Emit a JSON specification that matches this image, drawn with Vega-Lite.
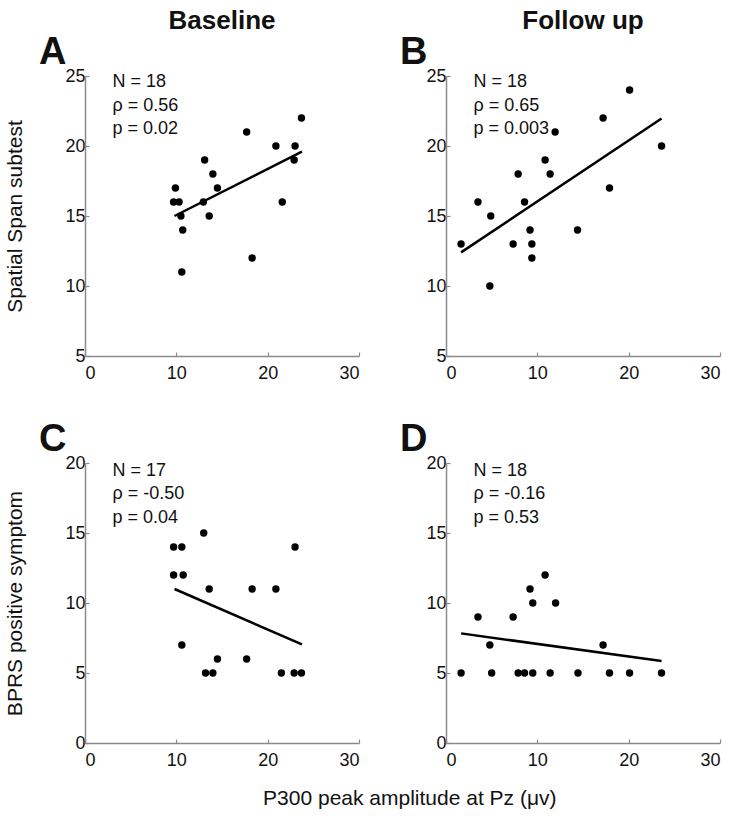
{
  "$schema": "https://vega.github.io/schema/vega-lite/v6.json",
  "background": "white",
  "padding": {"left": 4, "top": 8, "right": 5, "bottom": 3},
  "datasets": {
    "points": [
      {"panel": "A", "amp": 9.9, "score": 17}, {"panel": "A", "amp": 9.7, "score": 16}, {"panel": "A", "amp": 10.3, "score": 16},
      {"panel": "A", "amp": 10.5, "score": 15}, {"panel": "A", "amp": 10.7, "score": 14}, {"panel": "A", "amp": 10.6, "score": 11},
      {"panel": "A", "amp": 13.1, "score": 19}, {"panel": "A", "amp": 12.96, "score": 16}, {"panel": "A", "amp": 14.0, "score": 18},
      {"panel": "A", "amp": 14.5, "score": 17}, {"panel": "A", "amp": 13.6, "score": 15}, {"panel": "A", "amp": 17.7, "score": 21},
      {"panel": "A", "amp": 18.3, "score": 12}, {"panel": "A", "amp": 20.9, "score": 20}, {"panel": "A", "amp": 21.6, "score": 16},
      {"panel": "A", "amp": 23.0, "score": 20}, {"panel": "A", "amp": 22.9, "score": 19}, {"panel": "A", "amp": 23.7, "score": 22},
      {"panel": "B", "amp": 1.65, "score": 13}, {"panel": "B", "amp": 3.5, "score": 16}, {"panel": "B", "amp": 4.9, "score": 15},
      {"panel": "B", "amp": 4.8, "score": 10}, {"panel": "B", "amp": 7.35, "score": 13}, {"panel": "B", "amp": 7.9, "score": 18},
      {"panel": "B", "amp": 8.6, "score": 16}, {"panel": "B", "amp": 9.2, "score": 14}, {"panel": "B", "amp": 9.4, "score": 13},
      {"panel": "B", "amp": 9.4, "score": 12}, {"panel": "B", "amp": 10.85, "score": 19}, {"panel": "B", "amp": 11.4, "score": 18},
      {"panel": "B", "amp": 11.95, "score": 21}, {"panel": "B", "amp": 14.4, "score": 14}, {"panel": "B", "amp": 17.2, "score": 22},
      {"panel": "B", "amp": 17.9, "score": 17}, {"panel": "B", "amp": 20.1, "score": 24}, {"panel": "B", "amp": 23.6, "score": 20},
      {"panel": "C", "amp": 9.7, "score": 14}, {"panel": "C", "amp": 10.6, "score": 14}, {"panel": "C", "amp": 9.7, "score": 12},
      {"panel": "C", "amp": 10.75, "score": 12}, {"panel": "C", "amp": 10.6, "score": 7}, {"panel": "C", "amp": 13.0, "score": 15},
      {"panel": "C", "amp": 13.6, "score": 11}, {"panel": "C", "amp": 13.2, "score": 5}, {"panel": "C", "amp": 14.0, "score": 5},
      {"panel": "C", "amp": 14.5, "score": 6}, {"panel": "C", "amp": 17.7, "score": 6}, {"panel": "C", "amp": 18.3, "score": 11},
      {"panel": "C", "amp": 20.9, "score": 11}, {"panel": "C", "amp": 21.5, "score": 5}, {"panel": "C", "amp": 22.9, "score": 5},
      {"panel": "C", "amp": 23.7, "score": 5}, {"panel": "C", "amp": 23.0, "score": 14},
      {"panel": "D", "amp": 1.65, "score": 5}, {"panel": "D", "amp": 3.5, "score": 9}, {"panel": "D", "amp": 4.8, "score": 7},
      {"panel": "D", "amp": 5.0, "score": 5}, {"panel": "D", "amp": 7.35, "score": 9}, {"panel": "D", "amp": 7.9, "score": 5},
      {"panel": "D", "amp": 8.6, "score": 5}, {"panel": "D", "amp": 9.5, "score": 5}, {"panel": "D", "amp": 9.2, "score": 11},
      {"panel": "D", "amp": 9.5, "score": 10}, {"panel": "D", "amp": 10.85, "score": 12}, {"panel": "D", "amp": 11.4, "score": 5},
      {"panel": "D", "amp": 12.0, "score": 10}, {"panel": "D", "amp": 14.45, "score": 5}, {"panel": "D", "amp": 17.2, "score": 7},
      {"panel": "D", "amp": 17.9, "score": 5}, {"panel": "D", "amp": 20.1, "score": 5}, {"panel": "D", "amp": 23.6, "score": 5}
    ],
    "fits": [
      {"panel": "A", "amp": 9.8, "score": 15.0}, {"panel": "A", "amp": 23.75, "score": 19.6},
      {"panel": "B", "amp": 1.65, "score": 12.4}, {"panel": "B", "amp": 23.6, "score": 21.96},
      {"panel": "C", "amp": 9.8, "score": 11.0}, {"panel": "C", "amp": 23.75, "score": 7.04},
      {"panel": "D", "amp": 1.65, "score": 7.83}, {"panel": "D", "amp": 23.6, "score": 5.85}
    ],
    "stats": [
      {"panel": "A", "label": "N = 18\nρ = 0.56\np = 0.02", "letter": "A"},
      {"panel": "B", "label": "N = 18\nρ = 0.65\np = 0.003", "letter": "B"},
      {"panel": "C", "label": "N = 17\nρ = -0.50\np = 0.04", "letter": "C"},
      {"panel": "D", "label": "N = 18\nρ = -0.16\np = 0.53", "letter": "D"}
    ]
  },
  "title": {"text": "P300 peak amplitude at Pz (μv)", "orient": "bottom", "anchor": "middle", "frame": "bounds", "fontSize": 21, "fontWeight": "normal", "offset": 19, "dx": 47},
  "columns": 2,
  "spacing": {"row": 107, "column": 87},
  "bounds": "flush",
  "concat": [
    {
      "title": {"text": "Baseline", "anchor": "middle", "frame": "group", "fontSize": 26, "fontWeight": "bold", "offset": -21, "baseline": "alphabetic"},
      "width": 274, "height": 280,
      "layer": [
        {"data": {"name": "points"}, "transform": [{"filter": "datum.panel === 'A'"}],
         "mark": {"type": "point", "filled": true, "color": "black", "opacity": 1, "size": 55},
         "encoding": {
           "x": {"field": "amp", "type": "quantitative", "scale": {"domain": [0, 30], "nice": false, "zero": false}, "axis": {"values": [0, 10, 20, 30], "title": null}},
           "y": {"field": "score", "type": "quantitative", "scale": {"domain": [5, 25], "nice": false, "zero": false}, "axis": {"values": [5, 10, 15, 20, 25], "title": "Spatial Span subtest"}}
         }},
        {"data": {"name": "fits"}, "transform": [{"filter": "datum.panel === 'A'"}],
         "mark": {"type": "line", "color": "black", "strokeWidth": 2.5},
         "encoding": {"x": {"field": "amp", "type": "quantitative"}, "y": {"field": "score", "type": "quantitative"}}},
        {"data": {"name": "stats"}, "transform": [{"filter": "datum.panel === 'A'"}],
         "mark": {"type": "text", "align": "left", "baseline": "alphabetic", "fontSize": 18, "lineHeight": 23.5, "lineBreak": "\n", "color": "#111"},
         "encoding": {"x": {"datum": 3}, "y": {"datum": 24.2}, "text": {"field": "label"}}},
        {"data": {"name": "stats"}, "transform": [{"filter": "datum.panel === 'A'"}],
         "mark": {"type": "text", "align": "left", "baseline": "alphabetic", "fontSize": 38, "fontWeight": "bold", "dx": -46, "dy": -12, "color": "#111"},
         "encoding": {"x": {"datum": 0}, "y": {"datum": 25}, "text": {"field": "letter"}}}
      ]
    },
    {
      "title": {"text": "Follow up", "anchor": "middle", "frame": "group", "fontSize": 26, "fontWeight": "bold", "offset": -21, "baseline": "alphabetic"},
      "width": 274, "height": 280,
      "layer": [
        {"data": {"name": "points"}, "transform": [{"filter": "datum.panel === 'B'"}],
         "mark": {"type": "point", "filled": true, "color": "black", "opacity": 1, "size": 55},
         "encoding": {
           "x": {"field": "amp", "type": "quantitative", "scale": {"domain": [0, 30], "nice": false, "zero": false}, "axis": {"values": [0, 10, 20, 30], "title": null}},
           "y": {"field": "score", "type": "quantitative", "scale": {"domain": [5, 25], "nice": false, "zero": false}, "axis": {"values": [5, 10, 15, 20, 25], "title": null}}
         }},
        {"data": {"name": "fits"}, "transform": [{"filter": "datum.panel === 'B'"}],
         "mark": {"type": "line", "color": "black", "strokeWidth": 2.5},
         "encoding": {"x": {"field": "amp", "type": "quantitative"}, "y": {"field": "score", "type": "quantitative"}}},
        {"data": {"name": "stats"}, "transform": [{"filter": "datum.panel === 'B'"}],
         "mark": {"type": "text", "align": "left", "baseline": "alphabetic", "fontSize": 18, "lineHeight": 23.5, "lineBreak": "\n", "color": "#111"},
         "encoding": {"x": {"datum": 3}, "y": {"datum": 24.2}, "text": {"field": "label"}}},
        {"data": {"name": "stats"}, "transform": [{"filter": "datum.panel === 'B'"}],
         "mark": {"type": "text", "align": "left", "baseline": "alphabetic", "fontSize": 38, "fontWeight": "bold", "dx": -46, "dy": -12, "color": "#111"},
         "encoding": {"x": {"datum": 0}, "y": {"datum": 25}, "text": {"field": "letter"}}}
      ]
    },
    {
      "width": 274, "height": 280,
      "layer": [
        {"data": {"name": "points"}, "transform": [{"filter": "datum.panel === 'C'"}],
         "mark": {"type": "point", "filled": true, "color": "black", "opacity": 1, "size": 55},
         "encoding": {
           "x": {"field": "amp", "type": "quantitative", "scale": {"domain": [0, 30], "nice": false, "zero": false}, "axis": {"values": [0, 10, 20, 30], "title": null}},
           "y": {"field": "score", "type": "quantitative", "scale": {"domain": [0, 20], "nice": false, "zero": false}, "axis": {"values": [0, 5, 10, 15, 20], "title": "BPRS positive symptom"}}
         }},
        {"data": {"name": "fits"}, "transform": [{"filter": "datum.panel === 'C'"}],
         "mark": {"type": "line", "color": "black", "strokeWidth": 2.5},
         "encoding": {"x": {"field": "amp", "type": "quantitative"}, "y": {"field": "score", "type": "quantitative"}}},
        {"data": {"name": "stats"}, "transform": [{"filter": "datum.panel === 'C'"}],
         "mark": {"type": "text", "align": "left", "baseline": "alphabetic", "fontSize": 18, "lineHeight": 23.5, "lineBreak": "\n", "color": "#111"},
         "encoding": {"x": {"datum": 3}, "y": {"datum": 19.1}, "text": {"field": "label"}}},
        {"data": {"name": "stats"}, "transform": [{"filter": "datum.panel === 'C'"}],
         "mark": {"type": "text", "align": "left", "baseline": "alphabetic", "fontSize": 38, "fontWeight": "bold", "dx": -46, "dy": -12, "color": "#111"},
         "encoding": {"x": {"datum": 0}, "y": {"datum": 20}, "text": {"field": "letter"}}}
      ]
    },
    {
      "width": 274, "height": 280,
      "layer": [
        {"data": {"name": "points"}, "transform": [{"filter": "datum.panel === 'D'"}],
         "mark": {"type": "point", "filled": true, "color": "black", "opacity": 1, "size": 55},
         "encoding": {
           "x": {"field": "amp", "type": "quantitative", "scale": {"domain": [0, 30], "nice": false, "zero": false}, "axis": {"values": [0, 10, 20, 30], "title": null}},
           "y": {"field": "score", "type": "quantitative", "scale": {"domain": [0, 20], "nice": false, "zero": false}, "axis": {"values": [0, 5, 10, 15, 20], "title": null}}
         }},
        {"data": {"name": "fits"}, "transform": [{"filter": "datum.panel === 'D'"}],
         "mark": {"type": "line", "color": "black", "strokeWidth": 2.5},
         "encoding": {"x": {"field": "amp", "type": "quantitative"}, "y": {"field": "score", "type": "quantitative"}}},
        {"data": {"name": "stats"}, "transform": [{"filter": "datum.panel === 'D'"}],
         "mark": {"type": "text", "align": "left", "baseline": "alphabetic", "fontSize": 18, "lineHeight": 23.5, "lineBreak": "\n", "color": "#111"},
         "encoding": {"x": {"datum": 3}, "y": {"datum": 19.1}, "text": {"field": "label"}}},
        {"data": {"name": "stats"}, "transform": [{"filter": "datum.panel === 'D'"}],
         "mark": {"type": "text", "align": "left", "baseline": "alphabetic", "fontSize": 38, "fontWeight": "bold", "dx": -46, "dy": -12, "color": "#111"},
         "encoding": {"x": {"datum": 0}, "y": {"datum": 20}, "text": {"field": "letter"}}}
      ]
    }
  ],
  "config": {
    "font": "Liberation Sans",
    "view": {"stroke": null},
    "title": {"font": "Liberation Sans", "color": "#111"},
    "axis": {
      "grid": false,
      "domainColor": "#8a8a8a", "domainWidth": 1.5,
      "tickColor": "#8a8a8a", "tickWidth": 1.2, "tickSize": -4,
      "labelFont": "Liberation Sans", "labelFontSize": 18, "labelColor": "#111",
      "titleFont": "Liberation Sans", "titleFontSize": 21, "titleFontWeight": "normal", "titleColor": "#111"
    },
    "axisX": {"labelPadding": 12},
    "axisY": {"labelPadding": 4, "titlePadding": 39}
  }
}
